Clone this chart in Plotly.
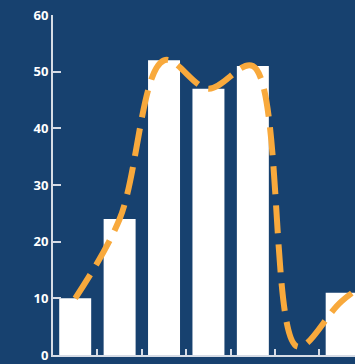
import plotly.graph_objects as go

categories = ["A", "B", "C", "D", "E", "F", "G"]
bar_values = [10, 24, 52, 47, 51, 0, 11]
line_categories = ["A", "B", "C", "D", "E", "F", "G", "H"]
line_values = [10, 24, 52, 47, 51, 1.5, 9.5, 15]
y_ticks = [0, 10, 20, 30, 40, 50, 60]

BG = "#17416f"
AXIS = "#d6dce6"

fig = go.Figure()
fig.add_trace(go.Bar(
    x=categories, y=bar_values,
    marker=dict(color="white", line=dict(width=0)),
    width=0.72,
))
fig.add_trace(go.Scatter(
    x=line_categories, y=line_values, mode="lines",
    line=dict(color="#f8a93c", width=6, dash="28px,11px", shape="spline", smoothing=1),
    cliponaxis=True,
))
fig.update_layout(
    width=355, height=364,
    margin=dict(l=53, r=0, t=15, b=9),
    paper_bgcolor=BG, plot_bgcolor=BG,
    showlegend=False,
    font=dict(family="Open Sans", color="white"),
    xaxis=dict(
        type="category", range=[-0.5, 6.3],
        categoryorder="array", categoryarray=line_categories,
        showgrid=False, zeroline=False,
        showline=True, linecolor=AXIS, linewidth=2,
        ticks="inside", tickson="boundaries", ticklen=6, tickwidth=1.5, tickcolor=AXIS,
        showticklabels=False,
    ),
    yaxis=dict(
        range=[0, 60], tickvals=y_ticks,
        showgrid=False, zeroline=False,
        showline=True, linecolor=AXIS, linewidth=2,
        ticks="inside", ticklen=8, tickwidth=1.5, tickcolor=AXIS,
        tickfont=dict(family="Open Sans", size=13, color="white", weight="bold"),
        ticklabelstandoff=0,
    ),
)
fig.write_html("out.html")
